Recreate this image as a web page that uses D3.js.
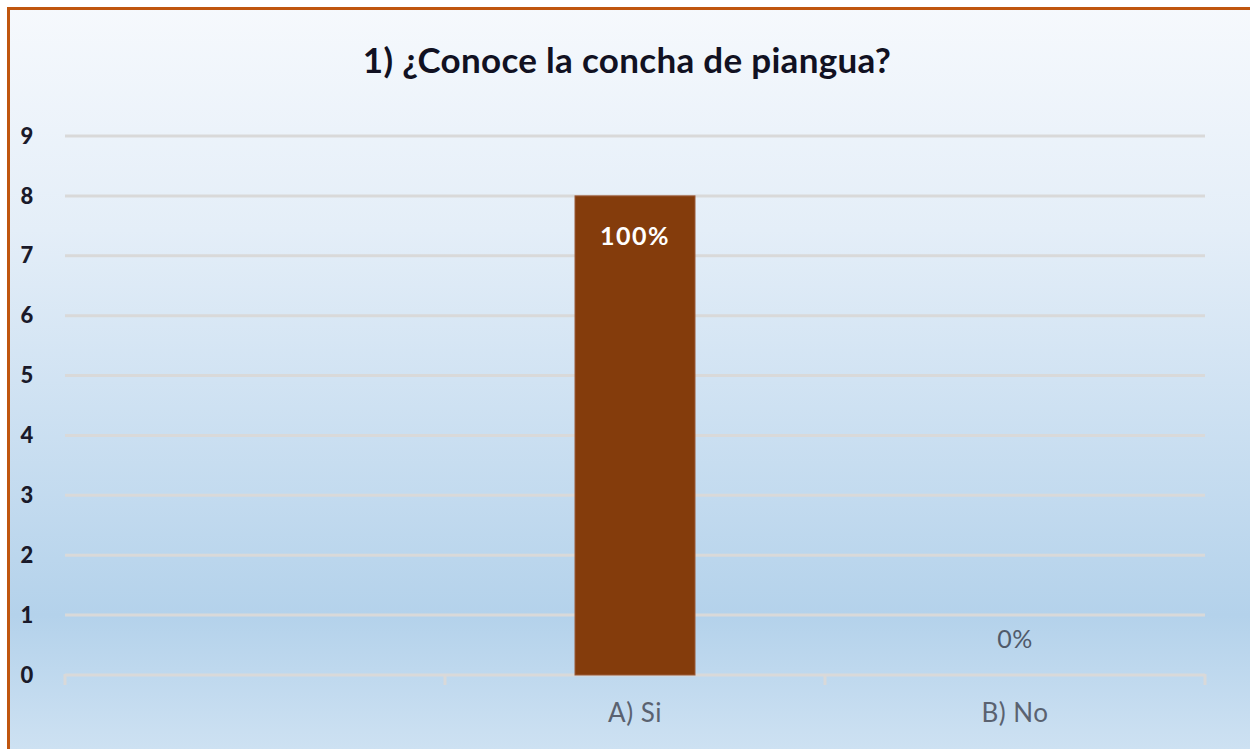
<!DOCTYPE html>
<html><head><meta charset="utf-8">
<script src="https://cdn.jsdelivr.net/npm/d3@7"></script>
<style>html,body{margin:0;padding:0;background:#fff;}svg{display:block;}</style>
</head><body>
<script>
const title = "1) ¿Conoce la concha de piangua?";
const categories = ["", "A) Si", "B) No"];
const values = [null, 8, 0];
const valueLabels = ["", "100%", "0%"];
const yTicks = [0,1,2,3,4,5,6,7,8,9];

const W = 1250, H = 749;
const svg = d3.select("body").append("svg").attr("width", W).attr("height", H);
const defs = svg.append("defs");
const g = defs.append("linearGradient").attr("id","bg").attr("x1",0).attr("y1",0).attr("x2",0).attr("y2",1);
g.append("stop").attr("offset","0%").attr("stop-color","#f6f9fd");
g.append("stop").attr("offset","30%").attr("stop-color","#e4eef8");
g.append("stop").attr("offset","82%").attr("stop-color","#b4d2eb");
g.append("stop").attr("offset","100%").attr("stop-color","#cde1f2");

svg.append("rect").attr("x",7).attr("y",7).attr("width",W-7).attr("height",H-7).attr("fill","url(#bg)");
svg.append("rect").attr("x",7).attr("y",7).attr("width",W-7).attr("height",3).attr("fill","#c0560f");
svg.append("rect").attr("x",7).attr("y",7).attr("width",3).attr("height",H-7).attr("fill","#c0560f");

const x = d3.scaleBand().domain(categories).range([65,1205]).paddingInner(0).paddingOuter(0);
const y = d3.scaleLinear().domain([0,9]).range([675,136]);

// gridlines
svg.append("g").selectAll("line").data(yTicks).join("line")
  .attr("x1",65).attr("x2",1205).attr("y1",d=>y(d)).attr("y2",d=>y(d))
  .attr("stroke","#d9d9d9").attr("stroke-width",3);

// x ticks
const tickXs = categories.map(c=>x(c)).concat([x(categories[categories.length-1])+x.bandwidth()]);
svg.append("g").selectAll("line").data(tickXs).join("line")
  .attr("x1",d=>d).attr("x2",d=>d).attr("y1",y(0)-1).attr("y2",y(0)+10)
  .attr("stroke","#d9d9d9").attr("stroke-width",3);

// y labels
svg.append("g").selectAll("text").data(yTicks).join("text")
  .attr("x",27).attr("y",d=>y(d)).attr("dy","0.35em").attr("text-anchor","middle")
  .attr("font-family","Lato, 'Open Sans', sans-serif").attr("font-weight","900")
  .attr("font-size",22).attr("fill","#1a1a2a").text(d=>d);

// bars
const barW = 120;
const data = categories.map((c,i)=>({c, v: values[i], l: valueLabels[i]}));
svg.append("g").selectAll("rect").data(data.filter(d=>d.v!=null && d.v>0)).join("rect")
  .attr("x",d=>x(d.c)+x.bandwidth()/2-barW/2).attr("width",barW)
  .attr("y",d=>y(d.v)).attr("height",d=>y(0)-y(d.v))
  .attr("fill","#843c0c").attr("stroke","#9a5a38").attr("stroke-width",1);

// value labels
svg.append("g").selectAll("text").data(data.filter(d=>d.v!=null)).join("text")
  .attr("x",d=>x(d.c)+x.bandwidth()/2)
  .attr("y",d=>d.v>0 ? y(d.v)+40 : y(d.v)-36)
  .attr("dy","0.35em").attr("text-anchor","middle")
  .attr("font-family","Lato, 'Open Sans', sans-serif")
  .attr("font-weight",d=>d.v>0?"bold":"normal")
  .attr("font-size",d=>d.v>0?25:25)
  .attr("letter-spacing",d=>d.v>0?1.5:0.5)
  .attr("fill",d=>d.v>0?"#ffffff":"#505a6a")
  .text(d=>d.l);

// category labels
svg.append("g").selectAll("text").data(categories).join("text")
  .attr("x",d=>x(d)+x.bandwidth()/2).attr("y",713).attr("dy","0.35em")
  .attr("text-anchor","middle").attr("font-family","Lato, 'Open Sans', sans-serif")
  .attr("font-size",26).attr("letter-spacing",0.5).attr("fill","#5a6270").text(d=>d);

// title
svg.append("text").attr("x",627).attr("y",61).attr("dy","0.35em").attr("text-anchor","middle")
  .attr("font-family","Lato, 'Open Sans', sans-serif").attr("font-weight","bold")
  .attr("font-size",35).attr("letter-spacing",0.3).attr("fill","#111122").text(title);
</script>
</body></html>
